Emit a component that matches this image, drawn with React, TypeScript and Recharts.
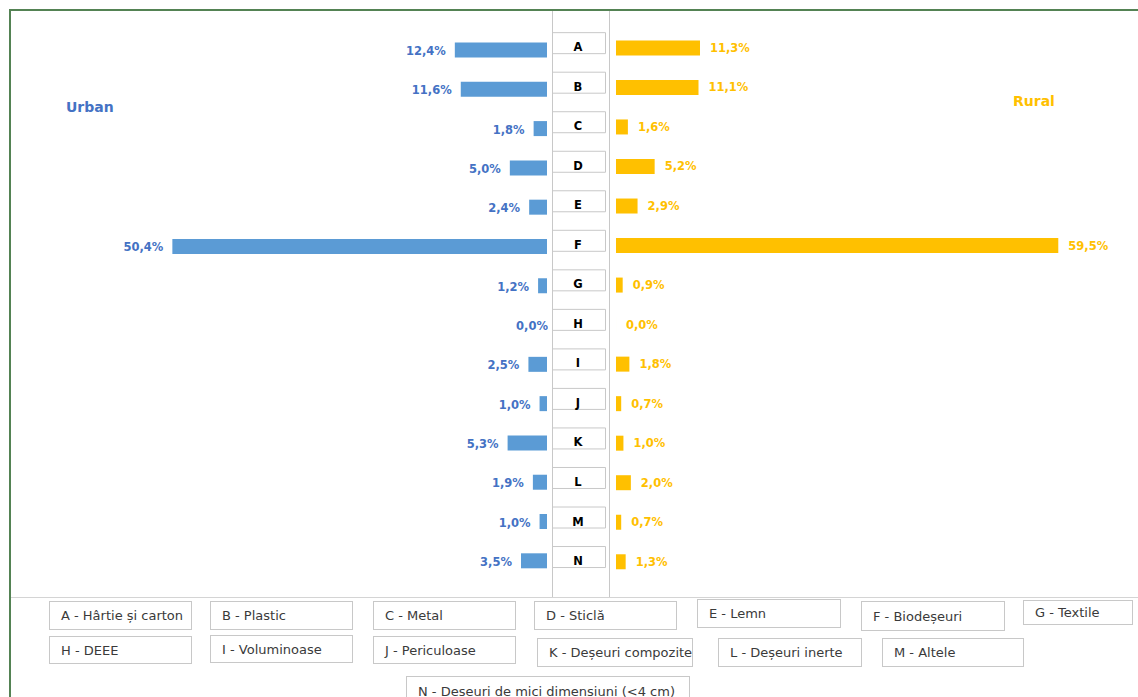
import React from 'react';
import { BarChart, Bar, XAxis, YAxis, LabelList } from 'recharts';

const categories = ['A', 'B', 'C', 'D', 'E', 'F', 'G', 'H', 'I', 'J', 'K', 'L', 'M', 'N'];
const urbanValues = [12.4, 11.6, 1.8, 5.0, 2.4, 50.4, 1.2, 0.0, 2.5, 1.0, 5.3, 1.9, 1.0, 3.5];
const ruralValues = [11.3, 11.1, 1.6, 5.2, 2.9, 59.5, 0.9, 0.0, 1.8, 0.7, 1.0, 2.0, 0.7, 1.3];
const seriesNames = ['Urban', 'Rural'];
const legendLabels = [
  'A - Hârtie și carton',
  'B - Plastic',
  'C - Metal',
  'D - Sticlă',
  'E - Lemn',
  'F - Biodeșeuri',
  'G - Textile',
  'H - DEEE',
  'I - Voluminoase',
  'J - Periculoase',
  'K - Deșeuri compozite',
  'L - Deșeuri inerte',
  'M - Altele',
  'N - Deșeuri de mici dimensiuni (<4 cm)',
];

// layout of legend boxes: [left, top, width, height]
const legendBoxes: number[][] = [
  [49, 601, 143, 29], [210, 601, 143, 29], [373, 601, 143, 29], [534, 601, 143, 29],
  [697, 599, 144, 29], [861, 601, 144, 30], [1023, 600, 110, 25],
  [49, 636, 143, 28], [210, 635, 143, 28], [373, 636, 143, 28], [537, 638, 156, 29],
  [718, 638, 144, 29], [882, 638, 142, 29], [406, 676, 284, 30],
];

const data = categories.map((k, i) => ({ k, u: urbanValues[i], r: ruralValues[i] }));

const FONT = '"DejaVu Sans", Verdana, sans-serif';
const BLUE_BAR = '#5B9BD5';
const BLUE_TXT = '#4472C4';
const GOLD = '#FFC000';

const fmt = (v: number) => Number(v).toFixed(1).replace('.', ',') + '%';

const LeftLabel = (props: any) => {
  const { x, y, width, height, value } = props;
  const xs = Number(x);
  const w = Number(width);
  const left = Math.min(xs, xs + w);
  const tx = Number(value) === 0 ? left + 1 : left - 9;
  return (
    <text x={tx} y={Number(y) + Number(height) / 2 + 1} textAnchor="end" dominantBaseline="central"
      fill={BLUE_TXT} fontSize={11.5} fontWeight="bold" fontFamily={FONT}>
      {fmt(value)}
    </text>
  );
};

const RightLabel = (props: any) => {
  const { x, y, width, height, value } = props;
  const xs = Number(x);
  const w = Number(width);
  const right = Math.max(xs, xs + w);
  return (
    <text x={right + 10} y={Number(y) + Number(height) / 2} textAnchor="start" dominantBaseline="central"
      fill={GOLD} fontSize={11.5} fontWeight="bold" fontFamily={FONT}>
      {fmt(value)}
    </text>
  );
};

const CenterTick = (props: any) => {
  const { y, payload } = props;
  const cy = Number(y) - 2;
  const top = cy - 14;
  const bottom = cy + 7;
  return (
    <g>
      <rect x={-2} y={top} width={54} height={bottom - top} fill="#fff" />
      <path d={`M0 ${top + 0.5} H52.5 V${bottom + 0.5} H0`} stroke="#c8c8c8" strokeWidth={1} fill="none" />
      <text x={25} y={cy + 1} textAnchor="middle" dominantBaseline="central" fill="#000"
        fontSize={11.5} fontWeight="bold" fontFamily={FONT}>
        {payload.value}
      </text>
    </g>
  );
};

export default function App() {
  return (
    <div style={{ position: 'absolute', left: 0, top: 0, width: 1138, height: 697, overflow: 'hidden', background: '#fff', fontFamily: FONT }}>
      {/* outer green frame */}
      <div style={{ position: 'absolute', left: 9, top: 9, width: 1300, height: 900, border: '2px solid #548254', boxSizing: 'border-box' }} />
      {/* background lines */}
      <svg width={1138} height={697} style={{ position: 'absolute', left: 0, top: 0 }}>
        <line x1={552.5} y1={11} x2={552.5} y2={597} stroke="#c8c8c8" strokeWidth={1} />
        <line x1={609.5} y1={11} x2={609.5} y2={597} stroke="#c8c8c8" strokeWidth={1} />
        <line x1={11} y1={597.5} x2={1138} y2={597.5} stroke="#d4d4d4" strokeWidth={1} />
        <text x={66} y={107} dominantBaseline="central" fill={BLUE_TXT} fontSize={14} fontWeight="bold" fontFamily={FONT}>{seriesNames[0]}</text>
        <text x={1013} y={101} dominantBaseline="central" fill={GOLD} fontSize={14} fontWeight="bold" fontFamily={FONT}>{seriesNames[1]}</text>
      </svg>
      {/* left (urban) chart */}
      <div style={{ position: 'absolute', left: 0, top: 0 }}>
        <BarChart width={548} height={597} data={data} layout="vertical"
          margin={{ top: 30.5, bottom: 16.4, left: 101, right: 1 }}>
          <XAxis type="number" domain={[0, 60]} reversed hide allowDataOverflow />
          <YAxis type="category" dataKey="k" hide />
          <Bar dataKey="u" name={seriesNames[0]} fill={BLUE_BAR} barSize={15} minPointSize={0.01} isAnimationActive={false}>
            <LabelList dataKey="u" content={LeftLabel} />
          </Bar>
        </BarChart>
      </div>
      {/* right (rural) chart with centre category labels */}
      <div style={{ position: 'absolute', left: 553, top: 0 }}>
        <BarChart width={585} height={597} data={data} layout="vertical"
          margin={{ top: 28.4, bottom: 15.2, left: 0, right: 76 }}>
          <XAxis type="number" domain={[0, 60]} hide allowDataOverflow />
          <YAxis type="category" dataKey="k" width={63} axisLine={false} tickLine={false} tick={<CenterTick />} interval={0} />
          <Bar dataKey="r" name={seriesNames[1]} fill={GOLD} barSize={15} minPointSize={0.01} isAnimationActive={false}>
            <LabelList dataKey="r" content={RightLabel} />
          </Bar>
        </BarChart>
      </div>
      {/* legend */}
      {legendLabels.map((label, i) => {
        const [l, t, w, h] = legendBoxes[i];
        return (
          <div key={label} style={{
            position: 'absolute', left: l, top: t, width: w, height: h, boxSizing: 'border-box',
            border: '1px solid #c8c8c8', background: '#fff', display: 'flex', alignItems: 'center',
            paddingLeft: 11, fontSize: 13, color: '#3a3a3a', fontFamily: FONT, whiteSpace: 'nowrap',
          }}>
            {label}
          </div>
        );
      })}
    </div>
  );
}
